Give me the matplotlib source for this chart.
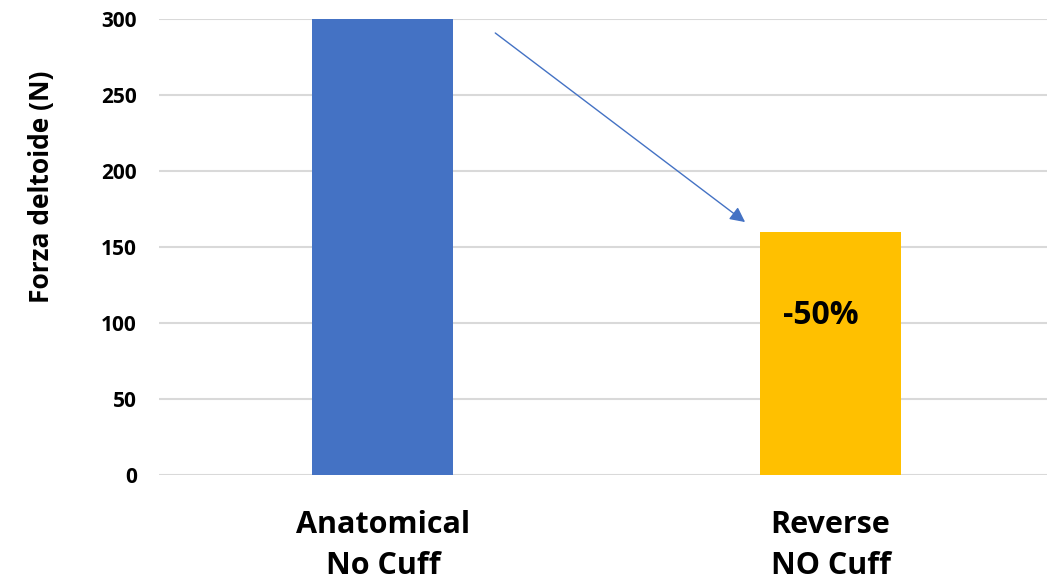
import matplotlib
matplotlib.use("Agg")
import matplotlib.pyplot as plt

# Deltoid force per implant configuration
categories = ["Anatomical\nNo Cuff", "Reverse\nNO Cuff"]
forces = [300, 160]
bar_colors = ["#4472C4", "#FFC000"]
y_ticks = [0, 50, 100, 150, 200, 250, 300]
change_label = "-50%"

fig = plt.figure(figsize=(10.47, 5.83), dpi=100)
ax = fig.add_axes([159 / 1047, (583 - 475) / 583, (1047 - 159) / 1047, (475 - 19) / 583])

x = list(range(len(categories)))
ax.bar(x, forces, width=0.315, color=bar_colors, zorder=3)

ax.set_xlim(-0.5, -0.5 + (1047 - 158.5) / 448)
ax.set_ylim(0, 300)
ax.set_yticks(y_ticks)
ax.yaxis.grid(True, color="#D9D9D9", linewidth=1.5, zorder=0)
ax.set_axisbelow(True)
for s in ax.spines.values():
    s.set_visible(False)
ax.tick_params(axis="both", length=0)
ax.tick_params(axis="y", pad=16)
ax.set_yticklabels([str(v) for v in y_ticks], fontfamily="Open Sans",
                   fontweight="bold", fontsize=15)

ax.set_xticks(x)
ax.set_xticklabels(categories, fontfamily="Open Sans", fontweight="bold",
                   fontsize=22, linespacing=1.48)
ax.tick_params(axis="x", pad=25)

ax.set_ylabel("Forza deltoide (N)", fontfamily="Open Sans", fontweight="bold",
              fontsize=19)
ax.yaxis.set_label_coords(-0.117, 0.632)

# Arrow showing the drop from anatomical to reverse
ax.annotate("", xy=(0.809, 166.4), xytext=(0.251, 290.8),
            arrowprops=dict(arrowstyle="-|>,head_length=0.9,head_width=0.45",
                            color="#4472C4", lw=1.0, shrinkA=0, shrinkB=0))

ax.text(0.977, 105, change_label, ha="center", va="center",
        fontfamily="Open Sans", fontweight="bold", fontsize=23, color="black")

fig.savefig("out.png", dpi=100)
